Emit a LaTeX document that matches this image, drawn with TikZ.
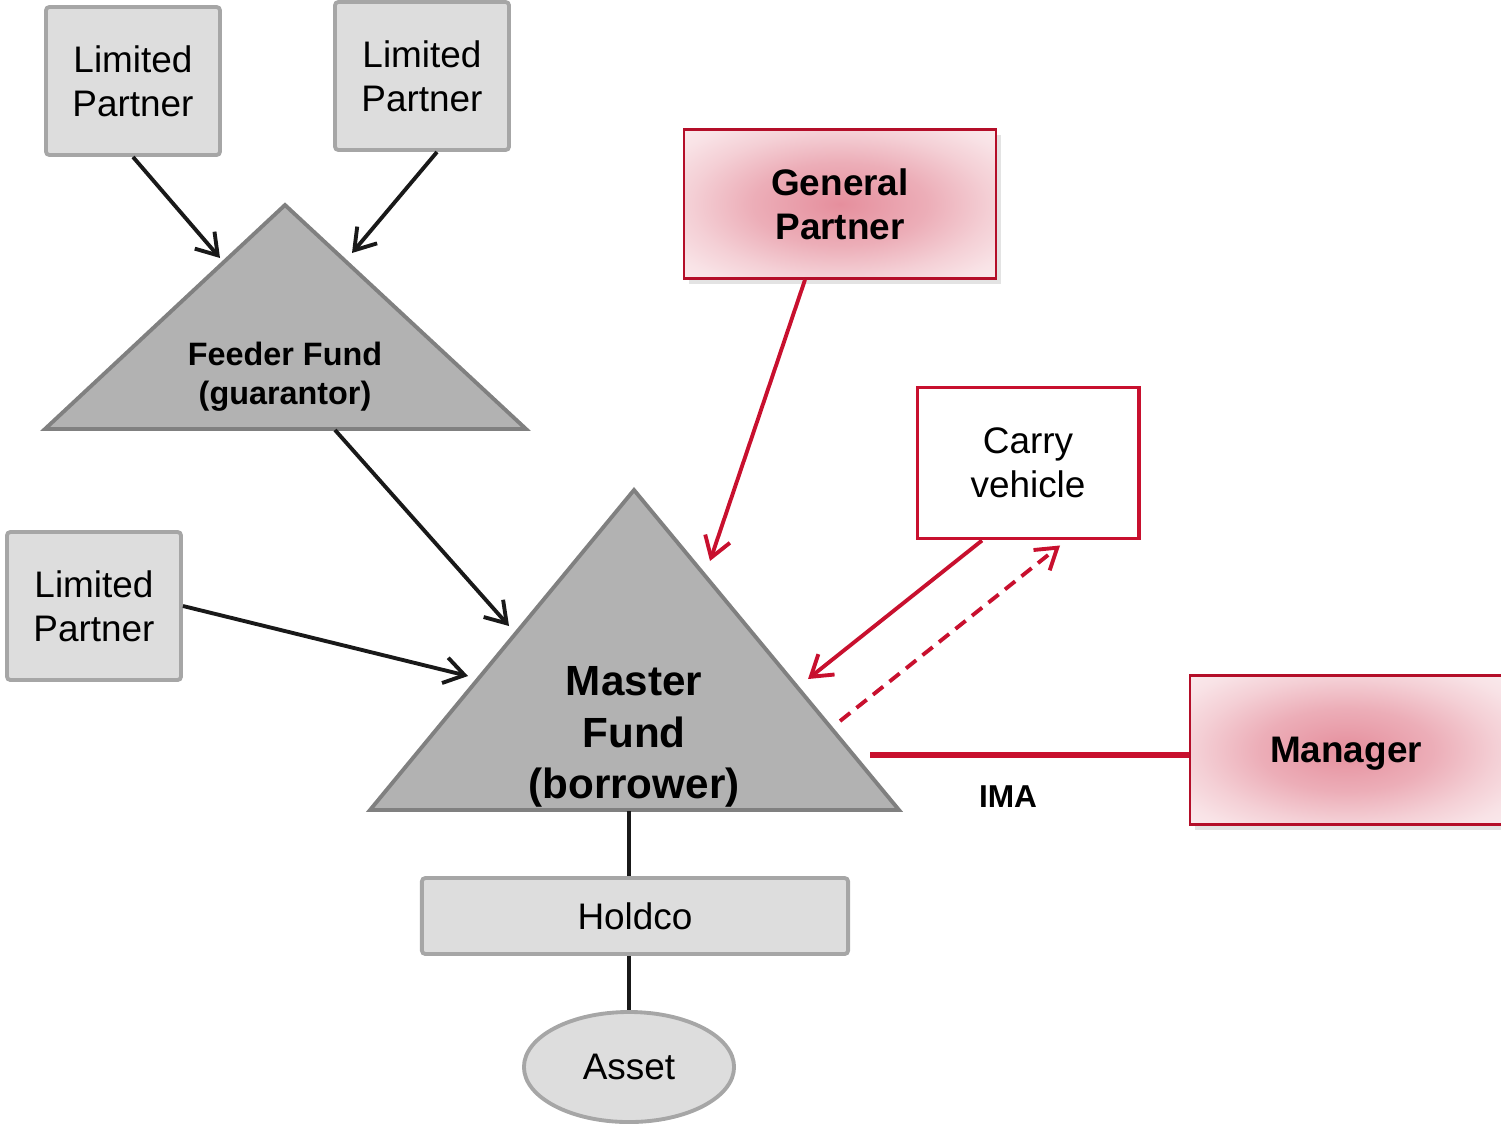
\documentclass[tikz,border=0pt]{standalone}
\usepackage{fontspec}
\setmainfont{Liberation Sans}
\usetikzlibrary{arrows.meta,shadows,shapes.geometric}
\definecolor{ibred}{RGB}{200,16,46}
\definecolor{boxgray}{RGB}{221,221,221}
\definecolor{boxedge}{RGB}{166,166,166}
\definecolor{trigray}{RGB}{178,178,178}
\definecolor{triedge}{RGB}{128,128,128}
\pgfdeclareradialshading{redglow}{\pgfpoint{0bp}{0bp}}{color(0bp)=(ibred!47); color(14bp)=(ibred!34); color(24bp)=(ibred!20); color(31bp)=(ibred!12); color(40bp)=(ibred!6)}

\begin{document}
\begin{tikzpicture}[x=0.01cm, y=-0.01cm,
  partner/.style={draw=boxedge, fill=boxgray, line width=1.1pt, rounded corners=1pt,
    minimum width=1.74cm, minimum height=1.48cm, align=center,
    font=\fontsize{10.5}{12.6}\selectfont},
  redbox/.style={draw=ibred!90!black, line width=0.7pt, shading=redglow,
    drop shadow={shadow xshift=1.5pt, shadow yshift=-1.5pt, opacity=0.22},
    minimum width=3.12cm, minimum height=1.49cm, align=center,
    font=\bfseries\fontsize{10.5}{12.6}\selectfont},
  fund/.style={draw=triedge, fill=trigray, line width=1.1pt, line join=miter},
  flow/.style={line width=1.1pt, black!90, -{Straight Barb[length=2mm,width=2.6mm]}},
  redflow/.style={flow, ibred}]

\useasboundingbox (0,0) rectangle (1501,1124);

\draw[fund] (285,205) -- (526,429) -- (45,429) -- cycle;
\draw[fund] (634,490) -- (899,810) -- (370,810) -- cycle;

\node[partner] (lp1) at (133,81) {Limited\\Partner};
\node[partner] (lp2) at (422,76) {Limited\\Partner};
\node[partner] (lp3) at (94,606) {Limited\\Partner};
\node[align=center, font=\bfseries\fontsize{9.2}{11.2}\selectfont] (feeder) at (285,377) {Feeder Fund\\(guarantor)};
\node[align=center, font=\bfseries\fontsize{12}{14.6}\selectfont] (master) at (634,737) {Master\\Fund\\(borrower)};
\node[redbox] (gp) at (840,204) {General\\Partner};
\node[redbox, text depth=0pt] (mgr) at (1346,750) {Manager};
\node[draw=ibred, fill=white, line width=1.1pt, minimum width=2.21cm, minimum height=1.51cm,
  align=center, font=\fontsize{10.5}{12.6}\selectfont] (carry) at (1028,463) {Carry\\vehicle};
\node[partner, minimum width=4.26cm, minimum height=0.76cm] (holdco) at (635,916) {Holdco};
\node[ellipse, draw=boxedge, fill=boxgray, line width=1.1pt, minimum width=2.1cm,
  minimum height=1.1cm, font=\fontsize{10.5}{12.6}\selectfont] (asset) at (629,1067) {Asset};

\coordinate (feeder-in1) at (220,258);
\coordinate (feeder-in2) at (352,253);
\coordinate (feeder-out) at (335,430);
\coordinate (master-in1) at (509,626);
\coordinate (master-in2) at (468,676);
\coordinate (master-in3) at (710,561);
\coordinate (master-in4) at (808,679);
\coordinate (master-out) at (840,721);
\coordinate (master-ima) at (870,755);
\coordinate (master-foot) at (629,811);

\draw[flow] (lp1.south) -- (feeder-in1);
\draw[flow] ([xshift=0.15cm]lp2.south) -- (feeder-in2);
\draw[flow] (feeder-out) -- (master-in1);
\draw[flow] (lp3.east) -- (master-in2);
\draw[redflow] ([xshift=-0.35cm]gp.south) -- (master-in3);
\draw[redflow] ([xshift=-0.46cm]carry.south) -- (master-in4);
\draw[redflow, dash pattern=on 3.7pt off 2.3pt] (master-out) -- ([shift={(0.32cm,-0.05cm)}]carry.south);
\draw[ibred, line width=1.7pt] (master-ima) -- (master-ima -| mgr.west);
\node[font=\bfseries\fontsize{9}{11}\selectfont] (ima) at (1008,797) {IMA};
\draw[line width=1.1pt, black!90] (master-foot) -- (master-foot |- holdco.north);
\draw[line width=1.1pt, black!90] (asset.north |- holdco.south) -- (asset.north);

\end{tikzpicture}
\end{document}
